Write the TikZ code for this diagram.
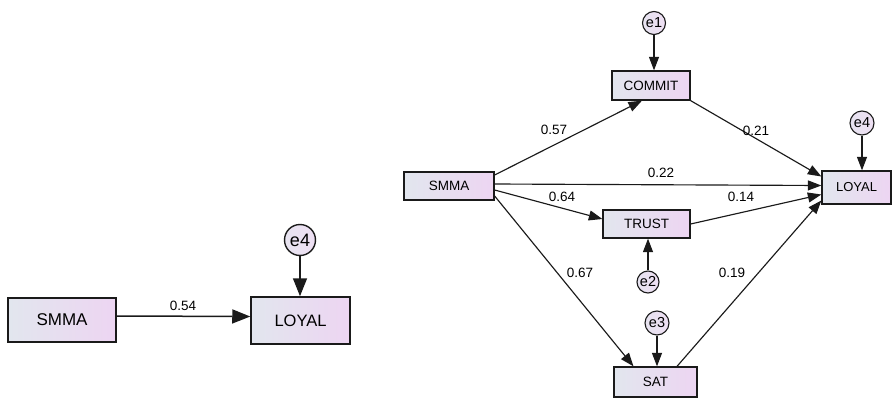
\documentclass[tikz,border=0pt]{standalone}
\usepackage{fontspec}
\setmainfont{Liberation Sans}
\usetikzlibrary{arrows.meta}

\definecolor{boxleft}{HTML}{E2E6EE}
\definecolor{boxright}{HTML}{EDD5F2}
\definecolor{errfill}{HTML}{EEDFF3}
\definecolor{ink}{HTML}{1A1A1A}

\tikzset{
  var/.style={draw=ink, line width=1.3pt, left color=boxleft, right color=boxright, inner sep=0pt},
  err/.style={draw=ink, line width=1.1pt, circle, left color=boxleft!60!errfill, right color=errfill, inner sep=0pt},
  path/.style={draw=ink, line width=1.15pt, -{Triangle[length=13.5pt,width=10pt]}},
  bigpath/.style={draw=ink, line width=1.5pt, -{Triangle[length=18pt,width=14pt]}},
  coef/.style={font=\fontsize{13.5}{15}\selectfont, inner sep=0pt}
}

\begin{document}
\begin{tikzpicture}[x=1pt, y=-1pt]
  \useasboundingbox (0,0) rectangle (892,399);

  % simple model
  \node[var, line width=1.5pt, minimum width=108pt, minimum height=44pt, font=\fontsize{17}{20}\selectfont] (smmaA) at (62,320) {SMMA};
  \node[var, line width=1.5pt, minimum width=99pt, minimum height=47pt, font=\fontsize{16.5}{20}\selectfont] (loyalA) at (300.5,320.5) {LOYAL};
  \node[err, line width=1.4pt, minimum size=31pt, font=\fontsize{18}{20}\selectfont] (e4A) at (300,240) {e4};
  \draw[bigpath] ([yshift=4pt]smmaA.east) -- ([yshift=4pt]loyalA.west);
  \draw[bigpath] (e4A) -- (e4A |- loyalA.north);
  \node[coef] (w54) at (183,306) {0.54};

  % mediation model
  \begin{scope}[font=\fontsize{13.5}{16}\selectfont]
    \node[var, minimum width=90pt, minimum height=28pt] (smma) at (449,186) {SMMA};
    \node[var, minimum width=78pt, minimum height=29pt] (commit) at (651,85.5) {COMMIT};
    \node[var, minimum width=87pt, minimum height=28pt] (trust) at (646.5,224) {TRUST};
    \node[var, minimum width=83pt, minimum height=30pt] (sat) at (655.5,382) {SAT};
    \node[var, minimum width=69pt, minimum height=33pt, font=\fontsize{13}{16}\selectfont] (loyal) at (856.5,187.5) {LOYAL};
  \end{scope}

  \begin{scope}[font=\fontsize{14.5}{16}\selectfont]
    \node[err, minimum size=23pt] (e1) at (654,23) {e1};
    \node[err, minimum size=22pt] (e2) at (648,282) {e2};
    \node[err, minimum size=24pt] (e3) at (657,323) {e3};
    \node[err, minimum size=24pt] (e4) at (862,123) {e4};
  \end{scope}

  \draw[path] (e1) -- (e1 |- commit.north);
  \draw[path] (e2) -- (e2 |- trust.south);
  \draw[path] (e3) -- (e3 |- sat.north);
  \draw[path] (e4) -- (e4 |- loyal.north);

  \draw[path] ([yshift=11pt]smma.east) -- ([xshift=-9pt]commit.south);
  \draw[path] ([yshift=2pt]smma.east) -- ([yshift=2pt]loyal.west);
  \draw[path] ([yshift=-4pt]smma.east) -- ([yshift=5pt]trust.west);
  \draw[path] ([yshift=-10pt]smma.east) -- ([xshift=-22pt]sat.north);
  \draw[path] (commit.south east) -- ([yshift=11pt]loyal.west);
  \draw[path] (trust.east) -- ([yshift=-7pt]loyal.west);
  \draw[path] ([xshift=21.5pt]sat.north) -- ([yshift=-13pt]loyal.west);

  \node[coef] (w57) at (554,130) {0.57};
  \node[coef] (w22) at (661,173) {0.22};
  \node[coef] (w64) at (562,197) {0.64};
  \node[coef] (w67) at (580,273) {0.67};
  \node[coef] (w21) at (756,131) {0.21};
  \node[coef] (w14) at (741,197) {0.14};
  \node[coef] (w19) at (732,273) {0.19};
\end{tikzpicture}
\end{document}
